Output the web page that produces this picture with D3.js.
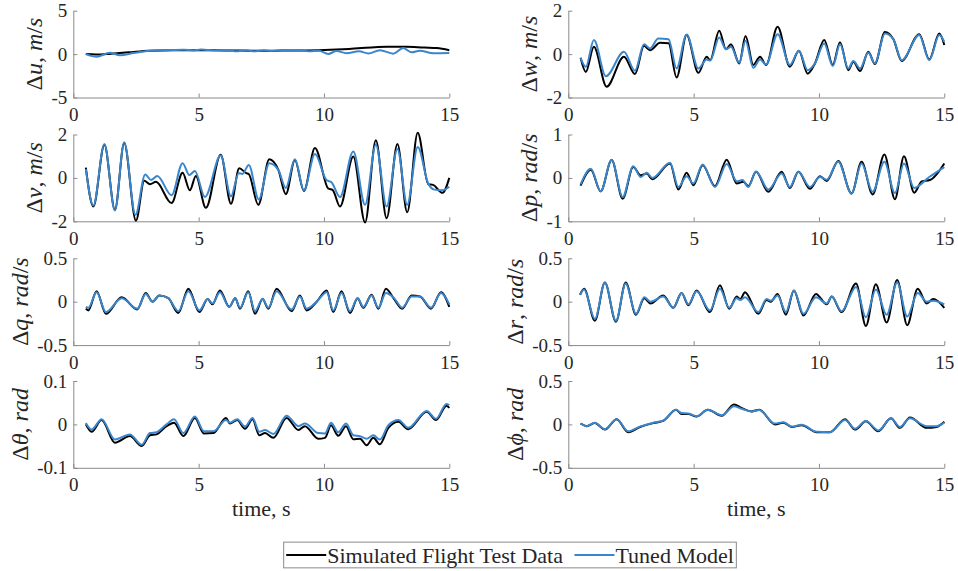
<!DOCTYPE html>
<html>
<head>
<meta charset="utf-8">
<script src="https://cdn.jsdelivr.net/npm/d3@7"></script>
<style>
  body { margin: 0; background: #fff; }
  svg { display: block; }
  text { font-family: "Liberation Serif", "DejaVu Serif", "Times New Roman", Times, serif; fill: #262626; }
</style>
</head>
<body>
<svg id="chart" width="958" height="571"></svg>
<script>
// ---- data: [time (s), value] pairs for each state perturbation ----
const timeTicks = [0, 5, 10, 15];
const seriesNames = ["Simulated Flight Test Data", "Tuned Model"];
const seriesColors = ["#000000", "#3a86cc"];

const duSim = [[0.5,0],[0.9,-0.05],[1.5,0.05],[2.2,0.2],[3.0,0.4],[4.0,0.45],[5.0,0.45],[6.0,0.42],[7.0,0.4],[8.0,0.4],[9.0,0.42],[10.0,0.48],[11.0,0.6],[12.0,0.78],[12.5,0.85],[13.3,0.85],[14.0,0.75],[14.5,0.7],[15.0,0.45]];
const duModel = [[0.5,0],[0.93,-0.3],[1.46,0.15],[1.86,-0.12],[2.4,0.12],[3.06,0.4],[3.7,0.45],[4.4,0.5],[4.8,0.42],[5.1,0.52],[5.6,0.42],[6.2,0.45],[6.5,0.32],[6.9,0.45],[7.2,0.32],[7.6,0.45],[7.9,0.35],[8.3,0.45],[8.7,0.38],[9.0,0.48],[9.4,0.32],[9.8,0.38],[10.17,0.02],[10.5,0.35],[10.9,0.1],[11.4,0.32],[11.77,0.08],[12.23,0.45],[12.77,0.05],[13.16,0.7],[13.5,0.2],[13.83,0.4],[14.36,0.1],[15.0,0.12]];

const dwSim = [[0.49,-0.17],[0.7,-0.82],[1.02,0.34],[1.53,-1.5],[2.22,-0.12],[2.66,-0.92],[3.02,0.38],[3.26,0.18],[3.66,0.52],[4.0,0.5],[4.32,-1.08],[4.72,0.88],[5.19,-0.86],[5.52,-0.12],[5.66,-0.28],[6.02,1.08],[6.29,0.23],[6.49,0.45],[6.82,-0.43],[7.07,0.83],[7.38,-0.5],[7.65,-0.12],[7.89,-0.5],[8.35,1.26],[8.84,-0.58],[9.2,0.15],[9.55,-0.9],[9.84,-0.43],[10.21,0.65],[10.55,-0.5],[10.84,0.55],[11.17,-0.74],[11.37,-0.35],[11.64,-0.78],[11.97,0.11],[12.23,-0.46],[12.63,1.02],[12.97,0.68],[13.3,-0.32],[14.0,0.92],[14.4,-0.25],[14.8,0.95],[15.0,0.42]];
const dwModel = [[0.49,-0.17],[0.7,-0.58],[1.02,0.65],[1.5,-1.02],[2.22,0.11],[2.66,-0.77],[3.02,0.45],[3.26,0.26],[3.59,0.72],[4.0,0.68],[4.32,-0.66],[4.72,0.9],[5.19,-0.66],[5.52,-0.25],[5.66,-0.3],[6.02,0.77],[6.29,0.22],[6.49,0.34],[6.82,-0.4],[7.07,0.62],[7.38,-0.63],[7.65,-0.25],[7.89,-0.48],[8.35,0.92],[8.84,-0.5],[9.2,0.15],[9.55,-0.74],[9.84,-0.43],[10.21,0.49],[10.55,-0.55],[10.84,0.45],[11.17,-0.66],[11.37,-0.32],[11.64,-0.66],[11.97,0.06],[12.23,-0.43],[12.63,0.95],[12.97,0.68],[13.3,-0.28],[14.0,0.88],[14.4,-0.28],[14.8,0.88],[15.0,0.57]];

const dvSim = [[0.5,0.47],[0.8,-1.32],[1.24,1.53],[1.66,-1.47],[2.03,1.61],[2.5,-1.97],[2.83,-0.13],[3.06,-0.29],[3.3,-0.18],[3.92,-1.16],[4.36,0.24],[4.65,-0.57],[4.89,0.09],[5.29,-1.38],[5.88,1.07],[6.29,-1.19],[6.62,0.44],[6.9,0.22],[7.0,0.18],[7.38,-1.24],[7.82,0.86],[8.18,0.37],[8.48,-0.75],[8.84,0.83],[9.2,-0.6],[9.64,1.38],[10.17,-0.49],[10.35,-0.56],[10.64,-1.32],[11.17,0.99],[11.64,-2.05],[12.07,1.74],[12.5,-1.86],[12.93,1.56],[13.32,-1.58],[13.74,2.08],[14.16,-0.29],[14.35,-0.32],[14.73,-0.69],[15.0,0.0]];
const dvModel = [[0.5,0.4],[0.8,-1.27],[1.24,1.56],[1.66,-1.5],[2.03,1.64],[2.48,-1.7],[2.87,0.16],[3.1,-0.1],[3.35,0.09],[3.92,-0.8],[4.36,0.68],[4.63,0.13],[4.85,0.32],[5.25,-0.88],[5.88,1.03],[6.29,-0.85],[6.6,0.22],[6.75,0.18],[7.0,0.6],[7.4,-0.99],[7.82,0.68],[8.18,0.37],[8.48,-0.46],[8.84,0.86],[9.2,-0.57],[9.64,1.1],[10.1,-0.1],[10.3,-0.2],[10.64,-0.88],[11.17,1.22],[11.64,-1.24],[12.07,1.53],[12.5,-1.32],[12.93,1.33],[13.32,-1.24],[13.74,1.42],[14.16,-0.26],[14.4,-0.54],[14.73,-0.57],[15.0,-0.41]];

const dpSim = [[0.49,-0.18],[0.9,0.19],[1.29,-0.31],[1.73,0.41],[2.17,-0.48],[2.59,0.25],[2.89,0.06],[3.13,0.1],[3.35,-0.03],[4.06,0.33],[4.39,-0.27],[4.72,0.12],[4.99,-0.17],[5.36,0.29],[5.85,-0.19],[6.32,0.42],[6.72,-0.13],[6.98,-0.09],[7.18,-0.19],[7.49,0.14],[7.98,-0.32],[8.51,0.14],[8.84,-0.23],[9.18,0.14],[9.64,-0.25],[10.04,0.04],[10.31,-0.07],[10.77,0.39],[11.3,-0.36],[11.7,0.37],[12.14,-0.38],[12.61,0.54],[13.03,-0.49],[13.39,0.5],[13.8,-0.34],[14.1,-0.08],[14.43,-0.05],[15.0,0.33]];
const dpModel = [[0.49,-0.15],[0.9,0.21],[1.29,-0.31],[1.73,0.42],[2.17,-0.44],[2.59,0.27],[2.89,0.02],[3.13,0.12],[3.35,0.0],[4.06,0.35],[4.39,-0.21],[4.72,0.04],[4.99,-0.13],[5.36,0.31],[5.85,-0.21],[6.32,0.32],[6.72,-0.08],[6.95,-0.05],[7.18,-0.21],[7.49,0.15],[7.98,-0.27],[8.51,0.1],[8.84,-0.21],[9.18,0.14],[9.64,-0.21],[10.04,0.02],[10.31,-0.04],[10.77,0.37],[11.3,-0.36],[11.7,0.33],[12.14,-0.32],[12.61,0.37],[13.03,-0.35],[13.39,0.33],[13.8,-0.23],[14.4,0.02],[15.0,0.25]];

const dqSim = [[0.5,-0.08],[0.6,-0.1],[0.93,0.12],[1.3,-0.14],[1.93,0.05],[2.55,-0.09],[2.89,0.1],[3.16,0.0],[3.43,0.07],[3.79,0.04],[4.19,-0.13],[4.59,0.15],[5.03,-0.12],[5.36,0.03],[5.55,-0.03],[5.85,0.13],[6.22,-0.06],[6.46,0.04],[6.65,-0.08],[6.98,0.12],[7.25,-0.14],[7.55,0.03],[7.78,-0.08],[8.11,0.15],[8.71,-0.11],[9.04,0.07],[9.31,-0.1],[9.71,0.0],[10.11,0.13],[10.37,-0.12],[10.7,0.12],[11.04,-0.13],[11.34,0.04],[11.57,-0.07],[11.9,0.08],[12.17,-0.08],[12.47,0.15],[12.8,0.03],[13.12,-0.08],[13.5,0.07],[13.83,0.06],[14.27,-0.08],[14.67,0.11],[15.0,-0.06]];
const dqModel = [[0.5,-0.06],[0.6,-0.07],[0.93,0.11],[1.3,-0.12],[1.93,0.04],[2.55,-0.08],[2.89,0.09],[3.16,0.0],[3.43,0.07],[3.79,0.04],[4.19,-0.11],[4.59,0.12],[5.03,-0.1],[5.36,0.03],[5.55,-0.02],[5.85,0.11],[6.22,-0.06],[6.46,0.04],[6.65,-0.07],[6.98,0.11],[7.25,-0.11],[7.55,0.03],[7.78,-0.07],[8.11,0.12],[8.71,-0.09],[9.04,0.06],[9.31,-0.08],[9.71,0.0],[10.11,0.11],[10.37,-0.1],[10.7,0.1],[11.04,-0.11],[11.34,0.04],[11.57,-0.06],[11.9,0.07],[12.17,-0.07],[12.47,0.1],[12.8,0.04],[13.12,-0.07],[13.5,0.06],[13.83,0.06],[14.27,-0.07],[14.67,0.1],[15.0,-0.03]];

const drSim = [[0.47,0.08],[0.63,0.15],[1.06,-0.22],[1.46,0.22],[1.9,-0.23],[2.29,0.22],[2.7,-0.15],[3.03,0.04],[3.28,-0.02],[3.79,0.07],[4.19,-0.07],[4.52,0.1],[4.79,-0.04],[5.12,0.13],[5.65,-0.12],[6.05,0.19],[6.42,-0.08],[6.72,0.06],[6.86,0.03],[7.05,0.11],[7.58,-0.14],[7.91,0.02],[8.08,0.0],[8.35,0.09],[8.68,-0.15],[9.0,0.13],[9.38,-0.16],[9.88,0.09],[10.31,-0.03],[10.51,0.06],[10.9,-0.12],[11.48,0.21],[11.87,-0.28],[12.27,0.2],[12.7,-0.24],[13.12,0.25],[13.52,-0.27],[13.94,0.15],[14.3,-0.02],[14.56,0.03],[15.0,-0.07]];
const drModel = [[0.47,0.08],[0.63,0.14],[1.06,-0.2],[1.46,0.22],[1.9,-0.22],[2.29,0.21],[2.7,-0.14],[3.03,0.05],[3.28,0.0],[3.79,0.06],[4.19,-0.07],[4.52,0.1],[4.79,-0.03],[5.12,0.12],[5.65,-0.1],[6.05,0.15],[6.42,-0.07],[6.72,0.04],[6.86,0.02],[7.05,0.05],[7.58,-0.12],[7.91,0.03],[8.08,0.01],[8.35,0.07],[8.68,-0.12],[9.0,0.13],[9.38,-0.14],[9.88,0.05],[10.31,-0.02],[10.51,0.06],[10.9,-0.11],[11.48,0.17],[11.87,-0.18],[12.27,0.14],[12.7,-0.15],[13.12,0.22],[13.52,-0.17],[13.94,0.1],[14.3,0.0],[14.56,0.01],[15.0,-0.03]];

const dthetaSim = [[0.5,0.0],[0.73,-0.017],[1.13,0.01],[1.66,-0.042],[2.26,-0.027],[2.73,-0.05],[3.06,-0.025],[3.32,-0.023],[3.72,-0.004],[4.02,0.004],[4.39,-0.027],[4.85,0.015],[5.21,-0.021],[5.59,-0.02],[6.09,0.015],[6.25,0.002],[6.54,0.01],[6.85,-0.01],[7.15,0.012],[7.42,-0.025],[7.65,-0.02],[7.98,-0.031],[8.51,0.015],[8.98,-0.013],[9.24,-0.004],[9.77,-0.033],[10.04,-0.031],[10.28,-0.002],[10.57,-0.026],[10.88,-0.004],[11.17,-0.034],[11.44,-0.033],[11.7,-0.048],[11.97,-0.031],[12.23,-0.046],[12.57,-0.008],[12.97,0.006],[13.36,-0.011],[14.1,0.029],[14.47,0.01],[14.89,0.043],[15.0,0.038]];
const dthetaModel = [[0.5,0.003],[0.73,-0.012],[1.13,0.012],[1.66,-0.035],[2.26,-0.023],[2.73,-0.047],[3.06,-0.02],[3.32,-0.018],[3.72,0.0],[4.02,0.012],[4.39,-0.02],[4.85,0.018],[5.21,-0.016],[5.59,-0.016],[6.09,0.01],[6.25,0.004],[6.54,0.012],[6.85,-0.005],[7.15,0.015],[7.42,-0.017],[7.65,-0.013],[7.98,-0.022],[8.51,0.02],[8.98,-0.004],[9.24,0.002],[9.77,-0.02],[10.04,-0.021],[10.28,0.004],[10.57,-0.018],[10.88,0.002],[11.17,-0.025],[11.44,-0.027],[11.7,-0.033],[11.97,-0.025],[12.23,-0.035],[12.57,-0.002],[12.97,0.01],[13.36,-0.008],[14.1,0.031],[14.47,0.013],[14.89,0.047],[15.0,0.044]];

const dphiSim = [[0.49,0.01],[0.73,-0.02],[1.06,0.015],[1.46,-0.06],[1.93,0.06],[2.39,-0.09],[2.86,-0.03],[3.39,0.015],[3.79,0.04],[4.3,0.17],[4.52,0.12],[4.79,0.12],[5.12,0.09],[5.56,0.17],[6.12,0.1],[6.61,0.23],[6.91,0.19],[7.31,0.15],[7.62,0.17],[8.24,0.0],[8.58,0.02],[8.91,-0.03],[9.31,-0.01],[9.91,-0.09],[10.44,-0.09],[11.04,0.06],[11.44,-0.06],[11.87,0.035],[12.37,-0.08],[12.87,0.07],[13.23,-0.04],[13.63,0.08],[14.3,-0.04],[14.69,-0.03],[15.0,0.03]];
const dphiModel = [[0.49,0.01],[0.73,-0.02],[1.06,0.02],[1.46,-0.055],[1.93,0.06],[2.39,-0.08],[2.86,-0.025],[3.39,0.02],[3.79,0.045],[4.3,0.17],[4.52,0.13],[4.79,0.125],[5.12,0.095],[5.56,0.17],[6.12,0.105],[6.61,0.21],[6.91,0.18],[7.31,0.15],[7.62,0.165],[8.24,0.01],[8.58,0.025],[8.91,-0.025],[9.31,-0.005],[9.91,-0.085],[10.44,-0.09],[11.04,0.05],[11.44,-0.05],[11.87,0.04],[12.37,-0.07],[12.87,0.07],[13.23,-0.03],[13.63,0.07],[14.3,-0.02],[14.69,-0.02],[15.0,0.02]];

// y-axis label pieces: [text, italic?]
const panels = [
  { col: 0, row: 0, domain: [-5, 5],     ticks: [-5, 0, 5],       label: [["Δ",0],["u",1],[", ",0],["m",1],["/",0],["s",1]],     sim: duSim,     model: duModel },
  { col: 1, row: 0, domain: [-2, 2],     ticks: [-2, 0, 2],       label: [["Δ",0],["w",1],[", ",0],["m",1],["/",0],["s",1]],     sim: dwSim,     model: dwModel },
  { col: 0, row: 1, domain: [-2, 2],     ticks: [-2, 0, 2],       label: [["Δ",0],["v",1],[", ",0],["m",1],["/",0],["s",1]],     sim: dvSim,     model: dvModel },
  { col: 1, row: 1, domain: [-1, 1],     ticks: [-1, 0, 1],       label: [["Δ",0],["p",1],[", ",0],["rad",1],["/",0],["s",1]],   sim: dpSim,     model: dpModel },
  { col: 0, row: 2, domain: [-0.5, 0.5], ticks: [-0.5, 0, 0.5],   label: [["Δ",0],["q",1],[", ",0],["rad",1],["/",0],["s",1]],   sim: dqSim,     model: dqModel },
  { col: 1, row: 2, domain: [-0.5, 0.5], ticks: [-0.5, 0, 0.5],   label: [["Δ",0],["r",1],[", ",0],["rad",1],["/",0],["s",1]],   sim: drSim,     model: drModel },
  { col: 0, row: 3, domain: [-0.1, 0.1], ticks: [-0.1, 0, 0.1],   label: [["Δ",0],["θ",1],[", ",0],["rad",1]],                  sim: dthetaSim, model: dthetaModel, xlabel: true },
  { col: 1, row: 3, domain: [-0.5, 0.5], ticks: [-0.5, 0, 0.5],   label: [["Δ",0],["ϕ",1],[", ",0],["rad",1]],                  sim: dphiSim,   model: dphiModel,   xlabel: true }
];

// ---- layout ----
const serif = '"Liberation Serif", "DejaVu Serif", "Times New Roman", Times, serif';
const svg = d3.select("#chart");
const colX = [73.3, 568.3];
const rowY = [10.7, 134.5, 258.3, 381];
const plotW = 376, plotH = 86.8;
const axisColor = "#8a8a8a";
const tickFont = 19, labelFont = 24;

panels.forEach(p => {
  const x0 = colX[p.col], y0 = rowY[p.row];
  const x = d3.scaleLinear().domain([0, 15]).range([x0, x0 + plotW]);
  const y = d3.scaleLinear().domain(p.domain).range([y0 + plotH, y0]);
  const g = svg.append("g");

  const gx = g.append("g")
    .attr("transform", `translate(0,${y0 + plotH})`)
    .call(d3.axisBottom(x).tickValues(timeTicks).tickSizeInner(-4).tickSizeOuter(0).tickPadding(10).tickFormat(d => String(d)));
  const gy = g.append("g")
    .attr("transform", `translate(${x0},0)`)
    .call(d3.axisLeft(y).tickValues(p.ticks).tickSizeInner(-4).tickSizeOuter(0).tickPadding(6).tickFormat(d => String(d)));

  [gx, gy].forEach(a => {
    a.attr("font-family", serif).attr("font-size", tickFont);
    a.select(".domain").attr("stroke", axisColor);
    a.selectAll(".tick line").attr("stroke", axisColor);
    a.selectAll(".tick text")
      .attr("fill", "#262626")
      .style("font-family", serif)
      .style("font-size", tickFont + "px");
  });

  // y label, placed just left of the widest tick label
  let maxW = 0;
  gy.selectAll(".tick text").each(function () { maxW = Math.max(maxW, this.getBBox().width); });
  const xb = x0 - 6 - maxW - 9;
  const lab = g.append("text")
    .attr("transform", `translate(${xb},${y0 + plotH / 2}) rotate(-90)`)
    .attr("text-anchor", "middle")
    .style("font-family", serif)
    .style("font-size", labelFont + "px");
  p.label.forEach(([t, it]) => {
    lab.append("tspan").text(t).style("font-style", it ? "italic" : "normal");
  });

  if (p.xlabel) {
    g.append("text")
      .attr("x", x0 + plotW / 2)
      .attr("y", y0 + plotH + 48)
      .attr("text-anchor", "middle")
      .style("font-family", serif)
      .style("font-size", "22px")
      .text("time, s");
  }

  const line = d3.line()
    .x(d => x(d[0]))
    .y(d => y(d[1]))
    .curve(d3.curveMonotoneX);

  [p.sim, p.model].forEach((data, i) => {
    g.append("path")
      .datum(data)
      .attr("fill", "none")
      .attr("stroke", seriesColors[i])
      .attr("stroke-width", 2)
      .attr("stroke-linejoin", "round")
      .attr("d", line);
  });
});

// ---- legend ----
const legend = svg.append("g");
const legY = 555, legH = 25.7, lineLen = 40, legCenter = 510;
const items = [];
let cursor = 0;
seriesNames.forEach((name, i) => {
  const it = legend.append("g");
  it.append("line")
    .attr("x1", 0).attr("x2", lineLen)
    .attr("y1", 0).attr("y2", 0)
    .attr("stroke", seriesColors[i]).attr("stroke-width", 2);
  const t = it.append("text")
    .attr("x", lineLen + 1).attr("y", 7.5)
    .style("font-family", serif)
    .style("font-size", "22px")
    .text(name);
  const w = lineLen + 1 + t.node().getComputedTextLength();
  items.push({ it, off: cursor });
  cursor += w + (i < seriesNames.length - 1 ? 11.5 : 0);
});
const totalW = cursor + 5;
const legX = legCenter - totalW / 2;
legend.insert("rect", ":first-child")
  .attr("x", legX).attr("y", legY - legH / 2)
  .attr("width", totalW).attr("height", legH)
  .attr("fill", "#fff").attr("stroke", axisColor).attr("stroke-width", 1);
items.forEach(({ it, off }) => it.attr("transform", `translate(${legX + 2.5 + off},${legY})`));
</script>
</body>
</html>
